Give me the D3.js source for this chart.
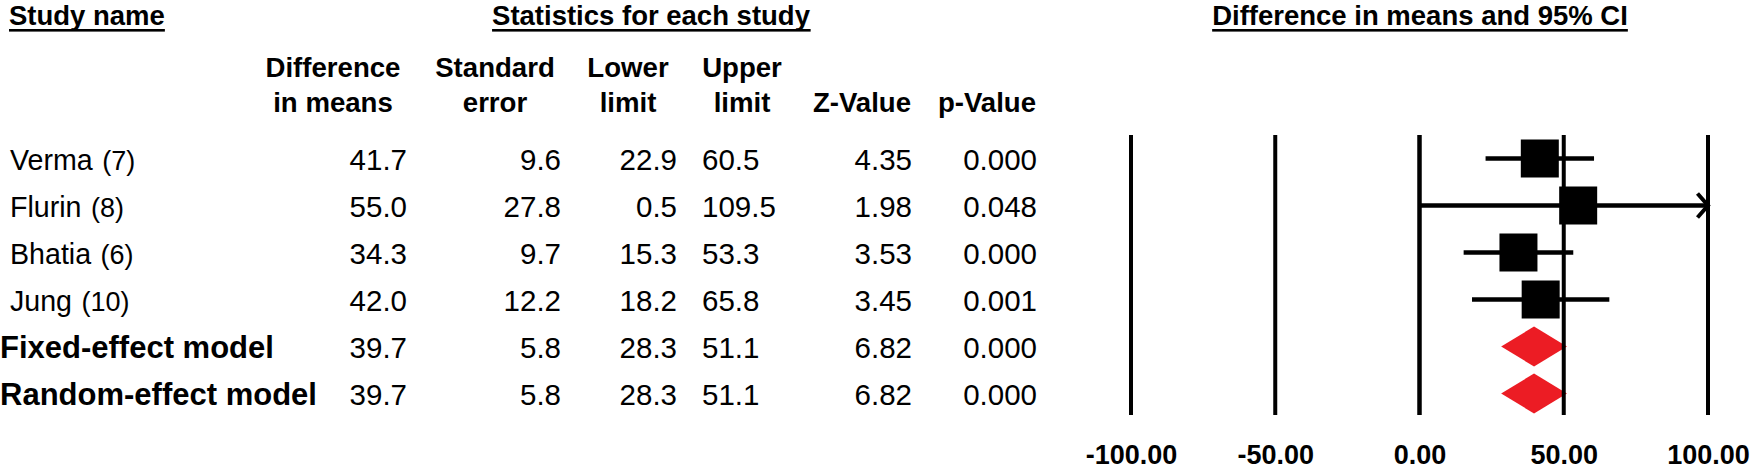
<!DOCTYPE html>
<html>
<head>
<meta charset="utf-8">
<script src="https://cdn.jsdelivr.net/npm/d3@7"></script>
<style>
  html, body { margin: 0; padding: 0; background: #fff; }
  svg { display: block; }
  text { font-family: "Liberation Sans", Arial, sans-serif; fill: #000; }
</style>
</head>
<body>
<svg id="chart" width="1753" height="469"></svg>
<script>
// ---- data ----
const studies = ["Verma", "Flurin", "Bhatia", "Jung", "Fixed-effect model", "Random-effect model"];
const counts = ["(7)", "(8)", "(6)", "(10)", "", ""];
const isModel = [false, false, false, false, true, true];
const diffMeans = [41.7, 55.0, 34.3, 42.0, 39.7, 39.7];
const stdErr = [9.6, 27.8, 9.7, 12.2, 5.8, 5.8];
const lowerLimit = [22.9, 0.5, 15.3, 18.2, 28.3, 28.3];
const upperLimit = [60.5, 109.5, 53.3, 65.8, 51.1, 51.1];
const zValue = [4.35, 1.98, 3.53, 3.45, 6.82, 6.82];
const pValue = [0.000, 0.048, 0.000, 0.001, 0.000, 0.000];
const xTicks = [-100, -50, 0, 50, 100];

const svg = d3.select("#chart");

// ---- scales ----
const x = d3.scaleLinear().domain([-100, 100]).range([1131, 1708]);
const y = d3.scalePoint().domain(d3.range(studies.length)).range([158.5, 393.5]);

// ---- top headers ----
function header(txt, xp, anchor, size) {
  const t = svg.append("text").attr("x", xp).attr("y", 25)
    .attr("text-anchor", anchor).attr("font-weight", "bold")
    .attr("font-size", size).text(txt);
  const bb = t.node().getBBox();
  svg.append("rect").attr("x", bb.x).attr("y", 29).attr("width", bb.width)
    .attr("height", 2.6).attr("fill", "#000");
}
header("Study name", 9, "start", 27.5);
header("Statistics for each study", 651, "middle", 27.5);
header("Difference in means and 95% CI", 1420, "middle", 27.5);

// ---- column headers ----
const colHeads = [
  { lines: ["Difference", "in means"], cx: 333, valX: 407, anchor: "end", vals: diffMeans, fmt: d3.format(".1f") },
  { lines: ["Standard", "error"], cx: 495, valX: 561, anchor: "end", vals: stdErr, fmt: d3.format(".1f") },
  { lines: ["Lower", "limit"], cx: 628, valX: 677, anchor: "end", vals: lowerLimit, fmt: d3.format(".1f") },
  { lines: ["Upper", "limit"], cx: 742, valX: 702, anchor: "start", vals: upperLimit, fmt: d3.format(".1f") },
  { lines: ["", "Z-Value"], cx: 862, valX: 912, anchor: "end", vals: zValue, fmt: d3.format(".2f") },
  { lines: ["", "p-Value"], cx: 987, valX: 1037, anchor: "end", vals: pValue, fmt: d3.format(".3f") }
];
const headBase = [77, 112];
colHeads.forEach(c => {
  c.lines.forEach((ln, i) => {
    if (!ln) return;
    svg.append("text").attr("x", c.cx).attr("y", headBase[i])
      .attr("text-anchor", "middle").attr("font-weight", "bold")
      .attr("font-size", 27.6).text(ln);
  });
  svg.append("g").selectAll("text").data(c.vals).join("text")
    .attr("x", c.valX).attr("y", (d, i) => y(i) + 11)
    .attr("text-anchor", c.anchor).attr("font-size", 29.5)
    .text(d => c.fmt(d));
});

// ---- study labels ----
const lab = svg.append("g").selectAll("text").data(studies).join("text")
  .attr("x", (d, i) => isModel[i] ? 0 : 10)
  .attr("y", (d, i) => y(i) + 11)
  .attr("font-weight", (d, i) => isModel[i] ? "bold" : "normal")
  .attr("font-size", (d, i) => isModel[i] ? 31 : 28.6);
lab.append("tspan").text(d => d);
lab.append("tspan").attr("font-size", 27).attr("dx", (d, i) => counts[i] ? 2 : 0)
  .text((d, i) => counts[i] ? " " + counts[i] : "");

// ---- forest plot ----
const plot = svg.append("g");
// diamonds (summary)
const diamondIdx = d3.range(studies.length).filter(i => isModel[i]);
plot.selectAll("path.diamond").data(diamondIdx).join("path")
  .attr("class", "diamond")
  .attr("fill", "#ec1c24")
  .attr("d", i => {
    const cy = y(i), h = 20;
    return `M${x(lowerLimit[i])},${cy} L${x(diffMeans[i])},${cy - h} L${x(upperLimit[i])},${cy} L${x(diffMeans[i])},${cy + h} Z`;
  });

// reference lines
plot.selectAll("line.ref").data(xTicks).join("line")
  .attr("class", "ref")
  .attr("x1", d => x(d)).attr("x2", d => x(d))
  .attr("y1", 135).attr("y2", 415)
  .attr("stroke", "#000").attr("stroke-width", d => d === 0 ? 4.5 : 4);

// CI lines for studies
const studyIdx = d3.range(studies.length).filter(i => !isModel[i]);
const [dMin, dMax] = x.domain();
plot.selectAll("line.ci").data(studyIdx).join("line")
  .attr("class", "ci")
  .attr("x1", i => x(Math.max(dMin, lowerLimit[i])))
  .attr("x2", i => x(Math.min(dMax, upperLimit[i])))
  .attr("y1", i => y(i)).attr("y2", i => y(i))
  .attr("stroke", "#000").attr("stroke-width", 4.5);

// arrows where CI exceeds the axis
plot.selectAll("path.arrow").data(studyIdx.filter(i => upperLimit[i] > dMax)).join("path")
  .attr("class", "arrow")
  .attr("fill", "none").attr("stroke", "#000").attr("stroke-width", 4)
  .attr("d", i => {
    const tx = x(dMax), cy = y(i);
    return `M${tx - 10.5},${cy - 12} L${tx},${cy} L${tx - 10.5},${cy + 12}`;
  });

// squares
const sq = 38;
plot.selectAll("rect.pt").data(studyIdx).join("rect")
  .attr("class", "pt")
  .attr("x", i => x(diffMeans[i]) - sq / 2)
  .attr("y", i => y(i) - sq / 2)
  .attr("width", sq).attr("height", sq)
  .attr("fill", "#000");

// tick labels
const axis = d3.axisBottom(x).tickValues(xTicks).tickSize(0).tickPadding(0)
  .tickFormat(d => d.toFixed(2));
const ax = svg.append("g").attr("transform", "translate(0,445)").call(axis);
ax.select(".domain").remove();
ax.selectAll("text")
  .attr("font-family", "'Liberation Sans', Arial, sans-serif")
  .attr("font-size", 27).attr("font-weight", "bold").attr("fill", "#000")
  .attr("dy", "0.71em");
</script>
</body>
</html>
